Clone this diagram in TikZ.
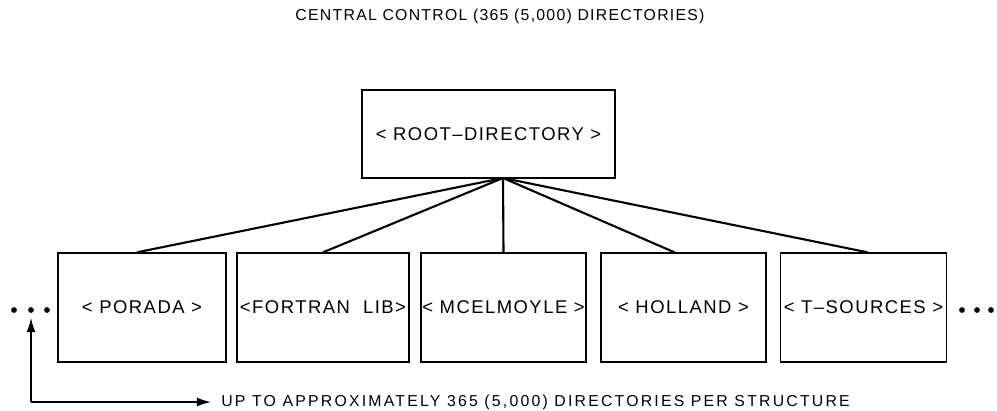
\documentclass[tikz,border=0pt]{standalone}
\usepackage{fontspec}
\setmainfont{Liberation Sans}
\newfontfamily\boxfont[LetterSpace=8]{Liberation Sans}
\newfontfamily\notefont[LetterSpace=14]{Liberation Sans}
\usetikzlibrary{arrows.meta}
\begin{document}
\begin{tikzpicture}[x=0.02cm,y=-0.02cm,
  dirbox/.style={draw,line width=0.8pt,inner sep=0pt,minimum height=2.18cm,
                 font=\boxfont\fontsize{10.5}{12}\selectfont},
  link/.style={line width=1.2pt},
  dot/.style={circle,fill,inner sep=0pt,minimum size=3.3pt},
  lbl/.style={inner sep=0pt,font=\notefont\fontsize{9}{11}\selectfont},
  pointer/.style={line width=0.7pt,-{Latex[length=8pt,width=5pt]}}]
\useasboundingbox (0,0) rectangle (997,410);
% title
\node[lbl,font=\boxfont\fontsize{9}{11}\selectfont] (title) at (500,16) {CENTRAL CONTROL (365 (5,000) DIRECTORIES)};
% root directory
\node[dirbox,minimum width=5.06cm,minimum height=1.76cm] (root) at (488.5,134) {< ROOT–DIRECTORY >};
\coordinate (apex) at (503,178);
% second level directories
\node[dirbox,minimum width=3.36cm] (porada)  at (142,307.5)   {< PORADA >};
\node[dirbox,minimum width=3.44cm] (fortran) at (323,307.5)   {<FORTRAN\ \ LIB>};
\node[dirbox,minimum width=3.30cm] (mcel)    at (503.5,307.5) {< MCELMOYLE >};
\node[dirbox,minimum width=3.30cm] (holland) at (683.5,307.5) {< HOLLAND >};
\node[dirbox,minimum width=3.32cm] (tsrc)    at (863.5,307.5) {< T–SOURCES >};
% links from the root
\draw[link] (apex) -- ([xshift=-0.1cm]porada.north);
\draw[link] (apex) -- (fortran.north);
\draw[link] (apex) -- (mcel.north);
\draw[link] (apex) -- ([xshift=-0.18cm]holland.north);
\draw[link] (apex) -- ([xshift=0.08cm]tsrc.north);
% continuation dots
\node[dot] (l1) at (14,310) {};
\node[dot] (l2) at (31,310) {};
\node[dot] (l3) at (47,310) {};
\node[dot] (r1) at (962,310) {};
\node[dot] (r2) at (977,310) {};
\node[dot] (r3) at (991,310) {};
% note with arrows
\node[lbl,anchor=west] (note) at (221,402) {UP TO APPROXIMATELY 365 (5,000) DIRECTORIES PER STRUCTURE};
\coordinate (corner) at (31,402);
\draw[pointer] (corner) -- (31,318);
\draw[pointer,shorten >=0.2cm] (corner) -- (note.west);
\end{tikzpicture}
\end{document}
